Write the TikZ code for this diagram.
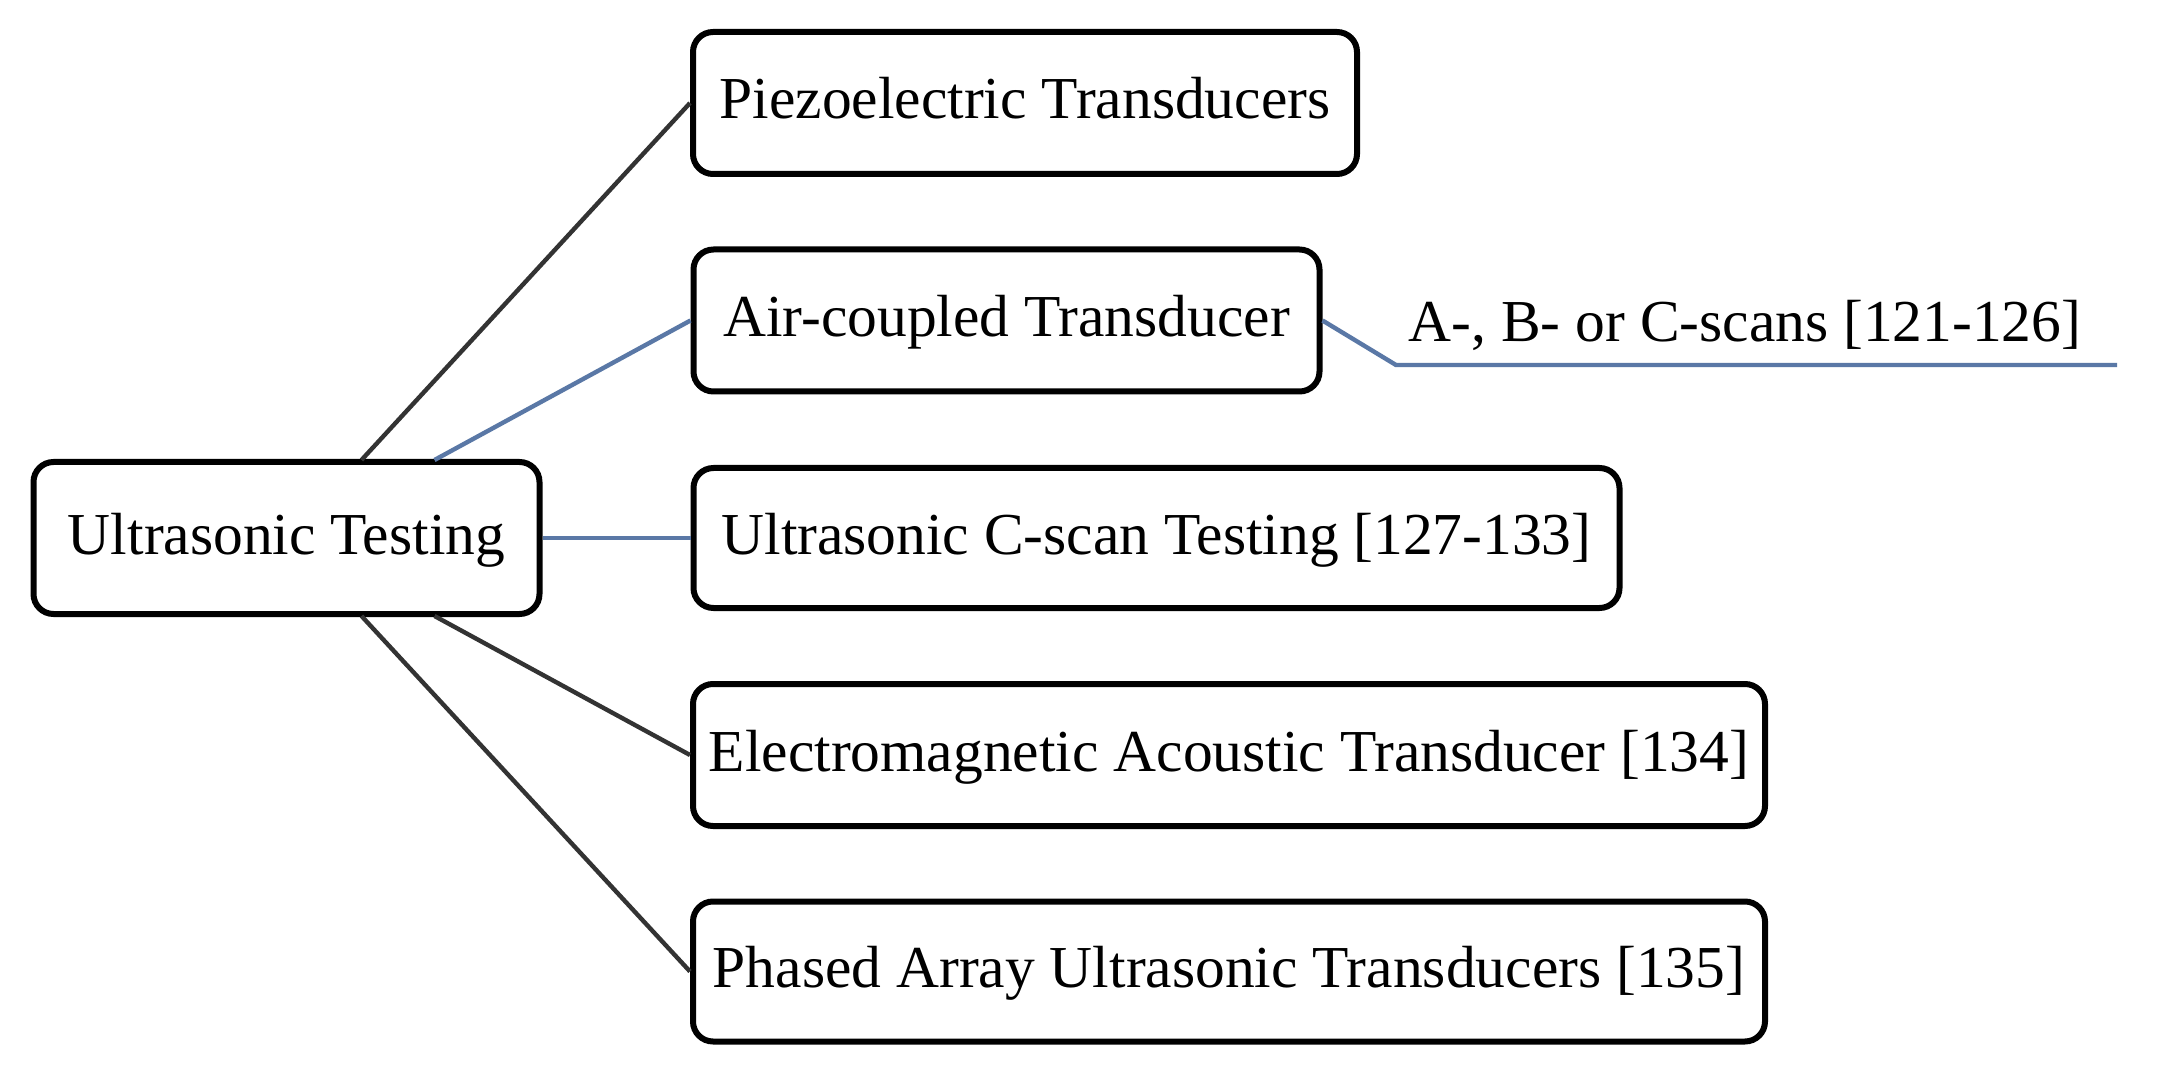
\documentclass[tikz,border=0pt]{standalone}
\usepackage{fontspec}
\setmainfont{Liberation Serif}
\usetikzlibrary{calc}
\definecolor{linkblue}{HTML}{5A78A6}
\definecolor{linkdark}{HTML}{333333}
\begin{document}
\begin{tikzpicture}[x=0.5pt,y=-0.5pt,
  box/.style={draw=black, line width=3pt, rounded corners=10pt, fill=white,
    inner sep=0pt, text height=16pt, text depth=0pt,
    font=\fontsize{29.75pt}{34pt}\selectfont},
  darklink/.style={draw=linkdark, line width=2.2pt},
  bluelink/.style={draw=linkblue, line width=2.2pt},
  lbl/.style={inner sep=0pt, font=\fontsize{29.75pt}{34pt}\selectfont}]
\useasboundingbox (0,0) rectangle (2175,1080);
\fill[white] (0,0) rectangle (2175,1080);
\coordinate (utc) at (286.5,538);
\coordinate (t1) at ($(utc)+(75,-78)$);
\coordinate (t2) at ($(utc)+(148,-78)$);
\coordinate (b1) at ($(utc)+(75,78)$);
\coordinate (b2) at ($(utc)+(148,78)$);
\coordinate (kink) at (1396,365);
\coordinate (lineend) at (2117,365);
\node[box, minimum width=253pt, minimum height=76pt] (ut) at (utc) {Ultrasonic Testing};
\node[box, minimum width=332pt, minimum height=71pt] (pz) at (1025,103) {Piezoelectric Transducers};
\node[box, minimum width=313pt, minimum height=71pt] (ac) at (1006.5,320.5) {Air-coupled Transducer};
\node[box, minimum width=463pt, minimum height=70pt] (cs) at (1156.5,538) {Ultrasonic C-scan Testing [127-133]};
\node[box, minimum width=536pt, minimum height=71pt] (em) at (1229,755) {Electromagnetic Acoustic Transducer [134]};
\node[box, minimum width=536pt, minimum height=70pt] (pa) at (1229,971.5) {Phased Array Ultrasonic Transducers [135]};
\draw[darklink] (t1) -- (pz.west);
\draw[bluelink] (t2) -- (ac.west);
\draw[bluelink] (ut.east) -- (cs.west);
\draw[darklink] (b2) -- (em.west);
\draw[darklink] (b1) -- (pa.west);
\draw[bluelink] (ac.east) -- (kink) -- (lineend);
\node[lbl, anchor=base] (scans) at (1745,342) {A-, B- or C-scans [121-126]};
\end{tikzpicture}
\end{document}
